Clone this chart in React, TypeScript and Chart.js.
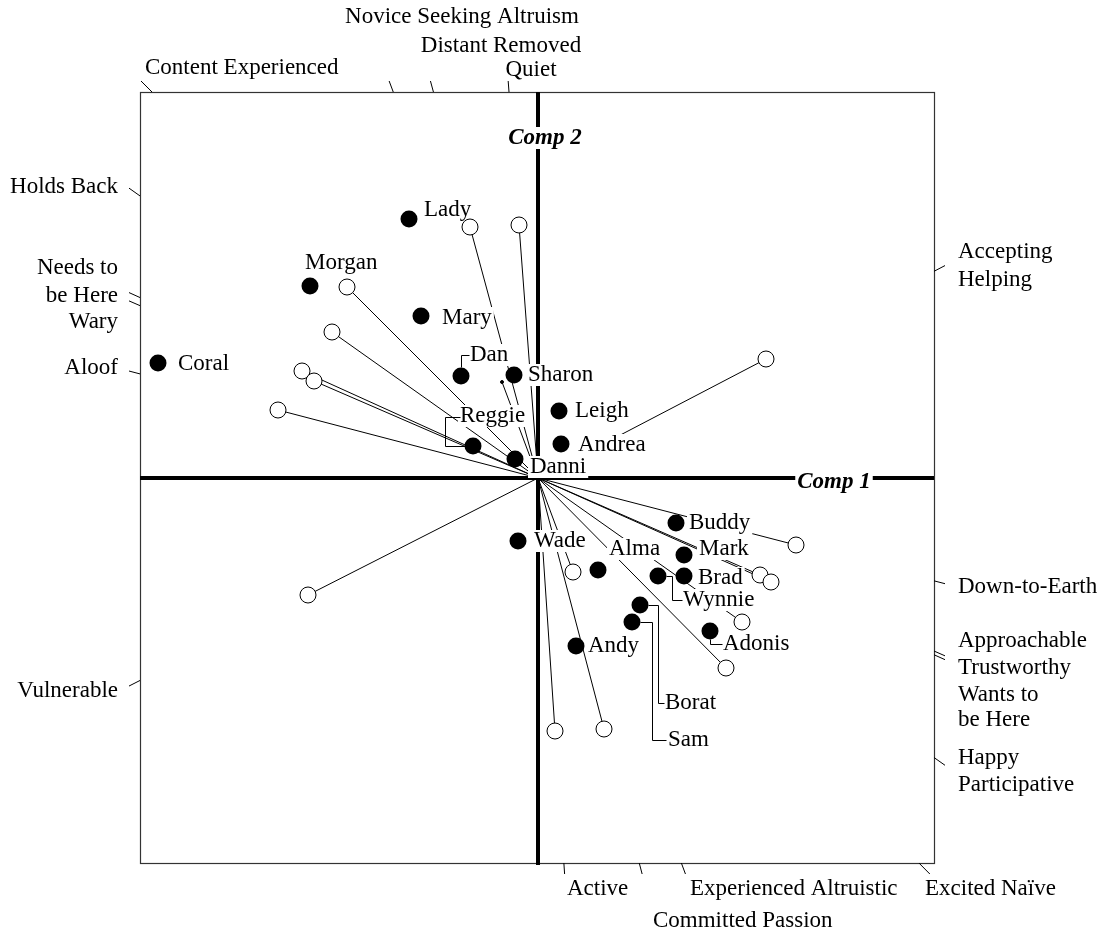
import React, { useEffect, useRef } from 'react';
import { Chart, registerables } from 'chart.js';

Chart.register(...registerables);

const FONT_FAMILY = '"Liberation Serif", "Times New Roman", Times, serif';

// ---------- data ----------
const respondentNames = [
  'Lady', 'Morgan', 'Mary', 'Coral', 'Dan', 'Sharon', 'Leigh', 'Andrea', 'Reggie', 'Danni',
  'Buddy', 'Mark', 'Brad', 'Wynnie', 'Adonis', 'Borat', 'Sam', 'Andy', 'Wade', 'Alma',
];
const respondentComp1 = [
  -1.29, -2.28, -1.17, -3.80, -0.77, -0.24, 0.21, 0.23, -0.65, -0.23,
  1.38, 1.46, 1.46, 1.20, 1.72, 1.02, 0.94, 0.38, -0.20, 0.60,
];
const respondentComp2 = [
  2.59, 1.92, 1.62, 1.15, 1.02, 1.03, 0.67, 0.34, 0.32, 0.19,
  -0.45, -0.77, -0.98, -0.98, -1.53, -1.27, -1.44, -1.68, -0.63, -0.92,
];

// variable loadings (biplot arrows)
const loadingComp1 = [
  -0.68, -0.19, -1.91, -2.06, -2.36, -2.24, -2.60, 2.28, -2.30,
  2.58, 2.22, 2.33, 2.04, 1.88, 0.35, 0.17, 0.66, -0.36,
];
const loadingComp2 = [
  2.51, 2.53, 1.91, 1.46, 1.07, 0.97, 0.68, 1.19, -1.17,
  -0.67, -0.97, -1.04, -1.44, -1.90, -0.94, -2.53, -2.51, 0.96,
];
// whether the arrow end carries an open circle
const loadingHasCircle = [
  true, true, true, true, true, true, true, true, true,
  true, true, true, true, true, true, true, true, false,
];

const comp1Range = [-3.98, 3.96];
const comp2Range = [-3.85, 3.86];
const axisTitles = ['Comp 1', 'Comp 2'];

// variable names placed around the frame
const topVariableTexts = ['Novice Seeking Altruism', 'Distant Removed', 'Quiet', 'Content Experienced'];
const topVariableAt = [-0.76, -0.37, -0.07, -3.93];
const leftVariableTexts = ['Holds Back', 'Needs to', 'be Here', 'Wary', 'Aloof', 'Vulnerable'];
const leftVariableAt = [2.91, 2.10, 1.82, 1.56, 1.10, -2.13];
const rightVariableTexts = [
  'Accepting', 'Helping', 'Down-to-Earth', 'Approachable', 'Trustworthy',
  'Wants to', 'be Here', 'Happy', 'Participative',
];
const rightVariableAt = [2.26, 1.98, -1.09, -1.63, -1.90, -2.17, -2.42, -2.80, -3.07];
const bottomVariableTexts = ['Active', 'Experienced Altruistic', 'Committed Passion', 'Excited Naïve'];
const bottomVariableAt = [0.29, 1.52, 1.15, 3.87];

// ---------- layout (pixels) ----------
const W = 1104;
const H = 938;
const PAD = { left: 140, right: W - 934, top: 92, bottom: H - 863 };
const FONT_PX = 23;
const topOffsets = [75, 46, 22, 24];
const topAligns: CanvasTextAlign[] = ['center', 'center', 'center', 'left'];
const bottomOffsets = [26, 26, 58, 26];
const SIDE_GAP_LEFT = 22;
const SIDE_GAP_RIGHT = 24;
const TICK_MARGIN = 11;

// label offsets from each respondent marker: [dx, dy]
const labelOffsets: number[][] = [
  [15, -9], [-5, -23], [21, 2], [20, 1], [9, -21], [14, 0], [16, 0], [17, 1], [-13, -30], [15, 8],
  [13, 0], [15, -6], [14, 2], [25, 24], [13, 13], [25, 98], [36, 118], [12, 0], [16, 0], [11, -21],
];
// leader lines (relative to marker)
const leaders: Record<string, number[][]> = {
  Dan: [[0, -9], [0, -21], [8, -21]],
  Reggie: [[-8, 0], [-28, 0], [-28, -29], [-13, -29]],
  Wynnie: [[8, 0], [14, 0], [14, 24], [24, 24]],
  Adonis: [[0, 8], [0, 13], [12, 13]],
  Borat: [[8, 0], [18, 0], [18, 98], [24, 98]],
  Sam: [[8, 0], [20, 0], [20, 118], [34, 118]],
};

function textWithBg(ctx: CanvasRenderingContext2D, text: string, x: number, y: number, align: CanvasTextAlign) {
  ctx.textAlign = align;
  ctx.textBaseline = 'middle';
  const w = ctx.measureText(text).width;
  let left = x;
  if (align === 'center') left = x - w / 2;
  else if (align === 'right') left = x - w;
  ctx.fillStyle = '#fff';
  ctx.fillRect(left - 2, y - 11, w + 4, 22);
  ctx.fillStyle = '#000';
  ctx.fillText(text, x, y);
}

const biplotPlugin = {
  id: 'biplot',
  beforeDatasetsDraw(chart: any) {
    const { ctx, chartArea: a, scales } = chart;
    const xs = scales.x;
    const ys = scales.y;
    const x0 = xs.getPixelForValue(0);
    const y0 = ys.getPixelForValue(0);
    ctx.save();
    // frame
    ctx.strokeStyle = '#333';
    ctx.lineWidth = 1.2;
    ctx.strokeRect(a.left + 0.5, a.top + 0.5, a.right - a.left, a.bottom - a.top);
    // thick axes
    ctx.strokeStyle = '#000';
    ctx.lineWidth = 4;
    ctx.beginPath();
    ctx.moveTo(a.left, y0);
    ctx.lineTo(a.right, y0);
    ctx.moveTo(x0, a.top);
    ctx.lineTo(x0, a.bottom + 2);
    ctx.stroke();

    // ticks where the loading directions leave the frame
    const hit = (dx: number, dy: number, l: number, r: number, t: number, b: number) => {
      let best = Infinity;
      if (dx > 0) best = Math.min(best, (r - x0) / dx);
      if (dx < 0) best = Math.min(best, (l - x0) / dx);
      if (dy > 0) best = Math.min(best, (b - y0) / dy);
      if (dy < 0) best = Math.min(best, (t - y0) / dy);
      return best;
    };
    ctx.lineWidth = 1;
    ctx.strokeStyle = '#000';
    ctx.beginPath();
    for (let i = 0; i < loadingComp1.length; i++) {
      const dx = xs.getPixelForValue(loadingComp1[i]) - x0;
      const dy = ys.getPixelForValue(loadingComp2[i]) - y0;
      const t1 = hit(dx, dy, a.left, a.right, a.top, a.bottom);
      const t2 = hit(dx, dy, a.left - TICK_MARGIN, a.right + TICK_MARGIN, a.top - TICK_MARGIN, a.bottom + TICK_MARGIN);
      ctx.moveTo(x0 + dx * t1, y0 + dy * t1);
      ctx.lineTo(x0 + dx * t2, y0 + dy * t2);
    }
    ctx.stroke();

    // variable names
    ctx.font = `${FONT_PX}px ${FONT_FAMILY}`;
    ctx.fillStyle = '#000';
    ctx.textBaseline = 'middle';
    topVariableTexts.forEach((t, i) => {
      ctx.textAlign = topAligns[i];
      ctx.fillText(t, xs.getPixelForValue(topVariableAt[i]), a.top - topOffsets[i]);
    });
    ctx.textAlign = 'right';
    leftVariableTexts.forEach((t, i) => {
      ctx.fillText(t, a.left - SIDE_GAP_LEFT, ys.getPixelForValue(leftVariableAt[i]));
    });
    ctx.textAlign = 'left';
    rightVariableTexts.forEach((t, i) => {
      ctx.fillText(t, a.right + SIDE_GAP_RIGHT, ys.getPixelForValue(rightVariableAt[i]));
    });
    bottomVariableTexts.forEach((t, i) => {
      ctx.fillText(t, xs.getPixelForValue(bottomVariableAt[i]), a.bottom + bottomOffsets[i]);
    });
    ctx.restore();
  },
  afterDatasetDraw(chart: any, args: any) {
    if (args.index !== 0) return;
    const { ctx, chartArea: a, scales } = chart;
    const xs = scales.x;
    const ys = scales.y;
    const x0 = xs.getPixelForValue(0);
    const y0 = ys.getPixelForValue(0);
    ctx.save();
    // axis titles
    ctx.font = `bold italic ${FONT_PX}px ${FONT_FAMILY}`;
    textWithBg(ctx, axisTitles[1], x0 + 7, a.top + 46, 'center');
    textWithBg(ctx, axisTitles[0], a.right - 100, y0 + 4, 'center');
    // respondent labels
    ctx.font = `${FONT_PX}px ${FONT_FAMILY}`;
    respondentNames.forEach((name, i) => {
      const px = xs.getPixelForValue(respondentComp1[i]);
      const py = ys.getPixelForValue(respondentComp2[i]);
      const [dx, dy] = labelOffsets[i];
      textWithBg(ctx, name, px + dx, py + dy, 'left');
    });
    // leader lines
    ctx.strokeStyle = '#000';
    ctx.lineWidth = 1;
    respondentNames.forEach((name, i) => {
      const pts = leaders[name];
      if (!pts) return;
      const px = xs.getPixelForValue(respondentComp1[i]);
      const py = ys.getPixelForValue(respondentComp2[i]);
      ctx.beginPath();
      pts.forEach(([dx, dy], k) => {
        const X = Math.round(px + dx) + 0.5;
        const Y = Math.round(py + dy) + 0.5;
        if (k === 0) ctx.moveTo(X, Y);
        else ctx.lineTo(X, Y);
      });
      ctx.stroke();
    });
    ctx.restore();
  },
};

export default function App() {
  const canvasRef = useRef<HTMLCanvasElement | null>(null);

  useEffect(() => {
    if (!canvasRef.current) return;
    const vectorData: any[] = [];
    loadingComp1.forEach((lx, i) => {
      vectorData.push({ x: 0, y: 0 });
      vectorData.push({ x: lx, y: loadingComp2[i] });
      vectorData.push({ x: lx, y: null });
    });
    const loadingPoints = loadingComp1.map((lx, i) => ({ x: lx, y: loadingComp2[i] }));
    const respondentPoints = respondentComp1.map((rx, i) => ({ x: rx, y: respondentComp2[i] }));

    const chart = new Chart(canvasRef.current, {
      type: 'scatter',
      data: {
        datasets: [
          {
            label: 'loadings',
            data: vectorData,
            showLine: true,
            spanGaps: false,
            borderColor: '#000',
            borderWidth: 1,
            pointRadius: 0,
            order: 3,
          } as any,
          {
            label: 'variables',
            data: loadingPoints,
            pointRadius: (c: any) => (loadingHasCircle[c.dataIndex] ? 8 : 1.5),
            pointBackgroundColor: (c: any) => (loadingHasCircle[c.dataIndex] ? '#fff' : '#000'),
            pointBorderColor: '#000',
            pointBorderWidth: 1,
            order: 2,
          } as any,
          {
            label: 'respondents',
            data: respondentPoints,
            pointRadius: 8.5,
            pointBackgroundColor: '#000',
            pointBorderColor: '#000',
            pointBorderWidth: 0,
            order: 1,
          } as any,
        ],
      },
      options: {
        responsive: false,
        maintainAspectRatio: false,
        devicePixelRatio: 1,
        animation: false,
        layout: { padding: PAD },
        scales: {
          x: { type: 'linear', min: comp1Range[0], max: comp1Range[1], display: false },
          y: { type: 'linear', min: comp2Range[0], max: comp2Range[1], display: false },
        },
        plugins: { legend: { display: false }, tooltip: { enabled: false } },
        events: [],
      },
      plugins: [biplotPlugin],
    } as any);
    return () => chart.destroy();
  }, []);

  return (
    <div style={{ position: 'absolute', left: 0, top: 0, width: W, height: H, background: '#fff' }}>
      <canvas ref={canvasRef} width={W} height={H} style={{ width: W, height: H, display: 'block' }} />
    </div>
  );
}
